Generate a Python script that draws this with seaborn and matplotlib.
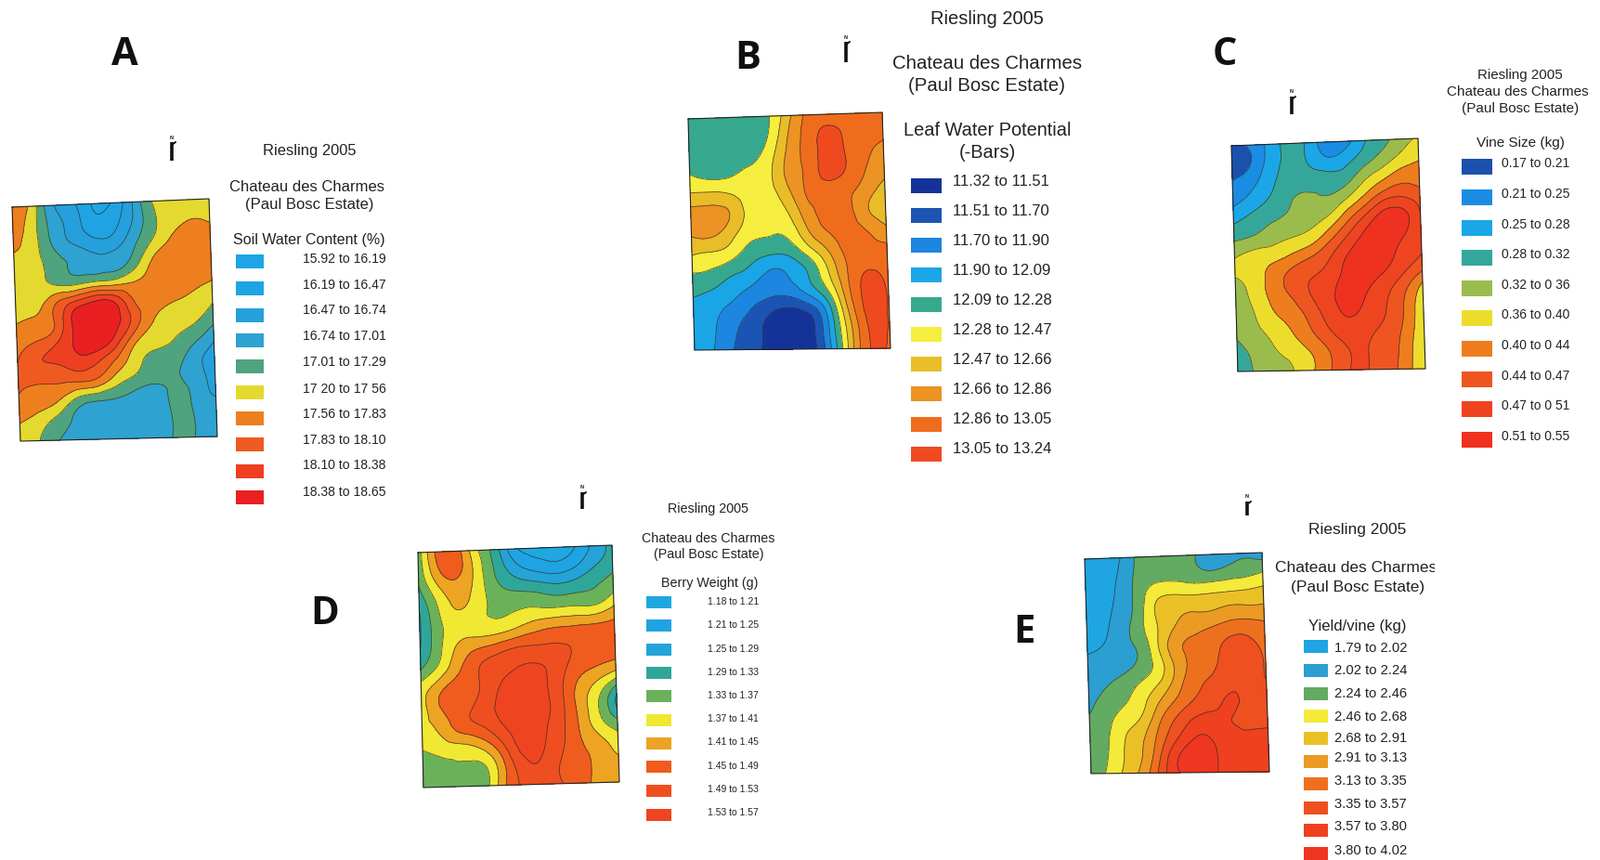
import numpy as np
import pandas as pd
import matplotlib
matplotlib.use("Agg")
import matplotlib.pyplot as plt
import matplotlib.tri as mtri
from matplotlib.patches import Rectangle
import seaborn as sns

sns.set_theme(style="white")
plt.rcParams['font.family'] = ['Liberation Sans', 'DejaVu Sans']

soil_water = [
    [6.5, 5.6, 3.2, 2.2, 1.0, 1.0, 2.8, 4.9, 5.5, 5.5, 5.5],
    [6.4, 5.4, 3.6, 2.6, 1.4, 1.6, 2.9, 4.6, 5.6, 6.0, 5.9],
    [6.1, 5.4, 3.9, 3.0, 2.4, 2.4, 3.6, 5.0, 6.1, 6.4, 6.4],
    [5.8, 5.4, 4.5, 3.8, 3.4, 3.5, 4.3, 6.05, 6.4, 6.5, 6.5],
    [5.5, 5.4, 4.9, 4.7, 5.1, 5.3, 5.9, 6.2, 6.4, 6.3, 6.1],
    [5.4, 5.5, 6.9, 8.2, 9.1, 8.9, 7.0, 6.3, 6.1, 5.8, 5.2],
    [6.0, 6.3, 7.1, 9.3, 9.7, 9.4, 7.6, 6.0, 5.4, 5.2, 4.4],
    [6.6, 7.1, 7.9, 9.2, 9.7, 8.6, 6.3, 5.4, 5.0, 4.3, 3.2],
    [7.0, 7.9, 8.1, 8.6, 8.2, 6.9, 5.4, 4.7, 4.4, 3.4, 2.6],
    [7.1, 7.1, 7.1, 7.1, 6.8, 5.5, 4.7, 4.2, 4.1, 3.5, 2.6],
    [6.9, 6.5, 6.0, 4.6, 4.1, 3.9, 3.4, 3.4, 4.3, 3.7, 3.0],
    [6.1, 5.5, 4.6, 3.8, 3.5, 3.3, 3.2, 3.2, 4.2, 3.9, 3.5],
    [5.6, 5.0, 4.0, 3.6, 3.4, 3.3, 3.2, 3.3, 4.2, 3.9, 3.5],
]
leaf_water = [
    [4.3, 4.3, 4.3, 4.4, 4.8, 6.4, 8.1, 8.5, 8.4, 8.3, 8.2],
    [4.3, 4.3, 4.4, 4.5, 4.9, 6.8, 8.3, 9.2, 8.9, 8.4, 8.2],
    [4.4, 4.4, 4.5, 4.7, 5.4, 7.1, 8.3, 9.3, 9.0, 8.2, 7.7],
    [5.1, 4.8, 4.9, 5.2, 5.7, 7.2, 8.2, 9.3, 8.9, 8.0, 7.3],
    [6.2, 6.3, 6.1, 5.5, 5.6, 6.7, 8.1, 8.4, 8.2, 7.5, 6.4],
    [7.4, 7.4, 7.0, 5.7, 5.4, 6.0, 7.6, 8.3, 8.3, 7.2, 6.3],
    [7.1, 7.2, 6.4, 5.4, 5.1, 5.3, 6.9, 8.0, 8.4, 8.0, 7.3],
    [6.1, 5.9, 5.5, 4.5, 4.2, 4.3, 5.5, 7.0, 8.3, 8.4, 8.3],
    [5.0, 4.8, 4.2, 3.7, 2.9, 3.2, 4.2, 6.1, 8.1, 9.0, 8.7],
    [4.2, 3.9, 3.4, 2.7, 2.3, 2.5, 3.5, 5.2, 7.9, 9.3, 8.9],
    [3.6, 3.3, 2.6, 1.9, 1.1, 0.8, 1.4, 3.8, 7.3, 9.3, 8.9],
    [3.5, 3.1, 2.2, 1.4, 0.7, 0.4, 0.7, 3.3, 6.7, 9.1, 8.9],
    [3.5, 3.0, 2.0, 1.3, 0.6, 0.3, 0.6, 3.0, 6.6, 9.0, 8.8],
]
vine_size = [
    [0.4, 1.2, 2.3, 3.3, 2.9, 1.4, 1.4, 2.8, 3.6, 4.5, 5.1],
    [0.5, 1.0, 2.4, 3.2, 3.0, 2.3, 2.6, 3.5, 4.4, 5.3, 5.9],
    [1.1, 1.7, 2.7, 3.5, 3.6, 3.5, 3.6, 4.8, 5.8, 6.6, 6.5],
    [1.8, 2.4, 3.2, 3.9, 4.2, 4.1, 4.9, 6.2, 7.6, 8.0, 7.5],
    [2.8, 3.4, 3.9, 4.2, 4.6, 5.1, 6.5, 8.1, 9.4, 9.4, 8.0],
    [3.9, 4.2, 4.6, 5.0, 5.4, 6.5, 8.0, 9.2, 9.5, 9.1, 8.1],
    [5.0, 5.5, 5.7, 6.2, 6.9, 7.8, 9.0, 9.5, 9.3, 8.7, 8.0],
    [5.0, 5.5, 6.4, 7.3, 7.9, 8.4, 9.3, 9.4, 8.9, 8.0, 6.8],
    [4.5, 5.3, 6.3, 7.1, 8.0, 8.8, 9.3, 9.0, 8.2, 7.1, 5.4],
    [4.2, 5.0, 5.9, 6.5, 7.4, 8.5, 9.1, 8.7, 8.0, 6.9, 5.2],
    [4.1, 4.7, 5.3, 6.0, 6.9, 7.9, 8.5, 8.2, 7.7, 6.7, 5.1],
    [3.6, 4.3, 4.9, 5.4, 6.1, 7.1, 8.0, 8.0, 7.6, 6.5, 5.1],
    [3.3, 4.1, 4.4, 5.0, 5.9, 7.0, 8.0, 8.0, 7.5, 6.4, 5.1],
]
berry_weight = [
    [4.4, 7.3, 7.4, 5.2, 3.4, 1.2, 0.6, 0.5, 0.9, 2.2, 3.3],
    [4.3, 6.8, 7.3, 5.6, 3.8, 2.4, 1.7, 1.4, 1.9, 2.9, 3.6],
    [3.8, 5.7, 6.5, 5.6, 4.3, 3.8, 3.6, 3.3, 3.5, 3.9, 4.6],
    [3.0, 5.0, 6.0, 5.4, 4.8, 4.9, 5.0, 4.9, 5.0, 5.0, 5.9],
    [2.9, 4.7, 5.6, 5.5, 5.5, 6.0, 6.6, 6.9, 7.0, 7.1, 7.2],
    [3.0, 4.8, 6.3, 7.0, 7.5, 8.0, 8.1, 8.1, 7.9, 7.6, 7.2],
    [4.0, 5.4, 6.9, 8.0, 8.6, 9.0, 9.1, 8.5, 7.6, 7.1, 6.7],
    [5.5, 6.8, 7.6, 8.0, 9.0, 9.4, 9.3, 8.4, 6.9, 5.8, 4.2],
    [5.5, 7.0, 7.7, 8.3, 9.2, 9.5, 9.4, 8.5, 6.8, 5.1, 2.8],
    [5.8, 6.3, 7.4, 7.9, 8.8, 9.4, 9.3, 8.4, 7.0, 5.5, 4.4],
    [5.1, 5.5, 5.7, 6.2, 7.6, 9.2, 9.2, 8.3, 7.2, 6.4, 5.5],
    [4.3, 4.6, 4.9, 4.8, 6.5, 8.5, 8.9, 8.0, 7.4, 6.7, 6.2],
    [4.2, 4.3, 4.4, 4.4, 6.5, 8.1, 8.6, 8.1, 7.4, 6.7, 6.3],
]
yield_vine = [
    [0.5, 0.7, 1.0, 2.2, 2.4, 2.4, 2.2, 1.4, 1.5, 1.9, 1.5],
    [0.5, 0.6, 1.2, 2.3, 2.6, 2.6, 2.4, 2.15, 2.4, 2.6, 2.9],
    [0.5, 0.7, 1.3, 2.5, 3.6, 3.8, 3.7, 3.8, 3.9, 4.0, 4.2],
    [0.6, 0.8, 1.4, 2.6, 4.2, 4.8, 4.9, 4.9, 5.2, 5.2, 5.2],
    [0.7, 0.9, 1.6, 2.7, 4.0, 5.1, 5.7, 6.0, 6.4, 6.5, 6.2],
    [0.9, 1.1, 1.6, 2.3, 4.0, 5.7, 6.2, 6.6, 7.3, 7.3, 6.7],
    [1.2, 1.5, 1.7, 2.3, 3.5, 5.3, 6.3, 6.8, 7.5, 7.6, 6.9],
    [1.4, 1.9, 2.4, 3.1, 4.0, 5.5, 6.7, 7.2, 7.7, 7.6, 7.0],
    [1.7, 2.4, 2.9, 3.7, 5.0, 6.2, 7.1, 7.7, 8.1, 7.7, 7.3],
    [2.1, 2.7, 3.5, 4.2, 5.9, 7.2, 8.1, 8.2, 8.0, 7.8, 7.6],
    [2.3, 2.9, 4.0, 4.9, 6.5, 8.0, 9.0, 8.8, 8.2, 8.1, 8.2],
    [2.4, 3.0, 4.1, 5.1, 7.1, 9.0, 9.4, 9.1, 8.3, 8.2, 8.2],
    [2.5, 3.2, 4.3, 5.5, 7.5, 9.0, 9.4, 9.1, 8.3, 8.2, 8.2],
]

soil_labels = ["15.92 to 16.19", "16.19 to 16.47", "16.47 to 16.74", "16.74 to 17.01", "17.01 to 17.29",
               "17 20 to 17 56", "17.56 to 17.83", "17.83 to 18.10", "18.10 to 18.38", "18.38 to 18.65"]
leaf_labels = ["11.32 to 11.51", "11.51 to 11.70", "11.70 to 11.90", "11.90 to 12.09", "12.09 to 12.28",
               "12.28 to 12.47", "12.47 to 12.66", "12.66 to 12.86", "12.86 to 13.05", "13.05 to 13.24"]
vine_labels = ["0.17 to 0.21", "0.21 to 0.25", "0.25 to 0.28", "0.28 to 0.32", "0.32 to 0 36",
               "0.36 to 0.40", "0.40 to 0 44", "0.44 to 0.47", "0.47 to 0 51", "0.51 to 0.55"]
berry_labels = ["1.18 to 1.21", "1.21 to 1.25", "1.25 to 1.29", "1.29 to 1.33", "1.33 to 1.37",
                "1.37 to 1.41", "1.41 to 1.45", "1.45 to 1.49", "1.49 to 1.53", "1.53 to 1.57"]
yield_labels = ["1.79 to 2.02", "2.02 to 2.24", "2.24 to 2.46", "2.46 to 2.68", "2.68 to 2.91",
                "2.91 to 3.13", "3.13 to 3.35", "3.35 to 3.57", "3.57 to 3.80", "3.80 to 4.02"]

soil_colors = ['#1fa5e6', '#1ea3e3', '#25a0dc', '#2ea2d0', '#4fa37e', '#e4d92e', '#ee7f1e', '#ef5a20', '#ee4020', '#ea1f22']
leaf_colors = ['#14339a', '#1c54b4', '#1c86e0', '#1aa5e6', '#36a88e', '#f5ee3e', '#e8bd28', '#ec9323', '#ef6c1d', '#ef4a1f']
vine_colors = ['#1b50ad', '#1a8ce4', '#1ba6e8', '#35a79a', '#9abc4c', '#ecdd2c', '#ee7d1e', '#ef5520', '#ef4420', '#ef3120']
berry_colors = ['#1fa8e0', '#1ea4e2', '#24a3d8', '#2fa69a', '#69b25a', '#f0e832', '#eca422', '#ef5c1e', '#ef4f20', '#ef4420']
yield_colors = ['#1ea5e2', '#2b9ed2', '#63aa62', '#f3ea3a', '#ebc026', '#eb9a24', '#ed701f', '#ee5020', '#ef4020', '#ef3620']

# positions below are pixels of the 1724x926 page
panels = [
    dict(letter="A", letter_xy=(134, 59), grid=soil_water, labels=soil_labels, colors=soil_colors,
         corners=[(13, 223), (225, 214), (234, 470), (22, 475)], north=(185, 146, 173),
         head=[("Riesling 2005", 333, 163, 11.9), ("Chateau des Charmes", 331, 201, 12),
               ("(Paul Bosc Estate)", 333, 220, 12), ("Soil Water Content (%)", 333, 258, 11.5)],
         label_x=326, label_size=10.1, swatch_x=269, swatch_w=30, swatch_h=15,
         label_y=[279, 307, 334, 362, 390, 419, 446, 474, 501, 530],
         swatch_y=[281, 310, 339, 366, 394, 422, 450, 478, 507, 535]),
    dict(letter="B", letter_xy=(805, 64), grid=leaf_water, labels=leaf_labels, colors=leaf_colors,
         corners=[(741, 128), (950, 121), (959, 375), (748, 377)], north=(911, 38, 67),
         head=[("Riesling 2005", 1063, 20, 14.5), ("Chateau des Charmes", 1063, 68, 14.7),
               ("(Paul Bosc Estate)", 1063, 92, 14.7), ("Leaf Water Potential", 1063, 141, 14.4),
               ("(-Bars)", 1063, 165, 14.4)],
         label_x=1026, label_size=12, swatch_x=998, swatch_w=33, swatch_h=16,
         label_y=[195, 227, 259, 291, 323, 355, 387, 419, 451, 483],
         swatch_y=[200, 232, 264, 296, 328, 360, 392, 424, 457, 489]),
    dict(letter="C", letter_xy=(1319, 59), grid=vine_size, labels=vine_labels, colors=vine_colors,
         corners=[(1326, 157), (1527, 149), (1535, 397), (1333, 400)], north=(1391, 97, 123),
         head=[("Riesling 2005", 1637, 81, 10.9), ("Chateau des Charmes", 1634, 99, 11),
               ("(Paul Bosc Estate)", 1637, 117, 11), ("Vine Size (kg)", 1637, 154, 11)],
         label_x=1617, label_size=10, swatch_x=1591, swatch_w=33, swatch_h=17,
         label_y=[176, 209, 242, 274, 307, 339, 372, 405, 437, 470],
         swatch_y=[179, 212, 245, 277, 310, 342, 375, 408, 440, 473]),
    dict(letter="D", letter_xy=(350, 662), grid=berry_weight, labels=berry_labels, colors=berry_colors,
         corners=[(450, 595), (659, 587), (667, 842), (456, 848)], north=(627, 523, 548),
         head=[("Riesling 2005", 763, 548, 10.4), ("Chateau des Charmes", 763, 580, 10.3),
               ("(Paul Bosc Estate)", 763, 597, 10.3), ("Berry Weight (g)", 764, 628, 10.3)],
         label_x=762, label_size=7.5, swatch_x=710, swatch_w=27, swatch_h=13,
         label_y=[648, 673, 699, 724, 749, 774, 799, 825, 850, 875],
         swatch_y=[648, 673, 699, 724, 749, 775, 800, 825, 851, 877]),
    dict(letter="E", letter_xy=(1103, 681), grid=yield_vine, labels=yield_labels, colors=yield_colors,
         corners=[(1168, 602), (1359, 595), (1367, 831), (1175, 833)], north=(1343, 533, 555),
         head=[("Riesling 2005", 1462, 570, 12.5), ("Chateau des Charmes", 1460, 612, 12.5),
               ("(Paul Bosc Estate)", 1462, 633, 12.5), ("Yield/vine (kg)", 1462, 675, 12)],
         label_x=1437, label_size=10.6, swatch_x=1417, swatch_w=26, swatch_h=14,
         label_y=[698, 722, 747, 772, 795, 816, 841, 866, 890, 916],
         swatch_y=[696, 722, 747, 771, 795, 820, 844, 870, 894, 919]),
]
levels = list(range(11))


def draw_map(ax, grid, colors, corners):
    z = np.array(grid)
    rows, cols = z.shape
    u, v = np.meshgrid(np.linspace(0, 1, cols), np.linspace(0, 1, rows))
    tl, tr, br, bl = [np.array(c, dtype=float) for c in corners]
    x = (1-u)*(1-v)*tl[0] + u*(1-v)*tr[0] + u*v*br[0] + (1-u)*v*bl[0]
    y = (1-u)*(1-v)*tl[1] + u*(1-v)*tr[1] + u*v*br[1] + (1-u)*v*bl[1]
    tris = []
    for i in range(rows-1):
        for j in range(cols-1):
            a = i*cols + j
            tris += [[a, a+1, a+cols], [a+1, a+cols+1, a+cols]]
    tri = mtri.Triangulation(x.ravel(), y.ravel(), tris)
    # let matplotlib round off the contours, the grid itself stays as read
    fine_tri, fine_z = mtri.UniformTriRefiner(tri).refine_field(z.ravel(), subdiv=3)
    fine_z = np.clip(fine_z, 0.01, 9.99)
    ax.tricontourf(fine_tri, fine_z, levels=levels, colors=colors)
    ax.tricontour(fine_tri, fine_z, levels=levels[1:-1], colors='#2a2a2a', linewidths=0.55, alpha=0.8)
    xs = [c[0] for c in corners] + [corners[0][0]]
    ys = [c[1] for c in corners] + [corners[0][1]]
    ax.plot(xs, ys, color='#222222', lw=0.8)


def draw_legend(ax, p):
    df = pd.DataFrame({'x': [p['swatch_x']]*10, 'y': p['swatch_y'], 'label': p['labels']})
    r = p['swatch_h'] / p['swatch_w']
    box = [(-1, -r), (1, -r), (1, r), (-1, r)]
    sns.scatterplot(data=df, x='x', y='y', hue='label', palette=p['colors'], marker=box,
                    s=(p['swatch_w']*0.72)**2, linewidth=0, legend=False, ax=ax)
    for lab, y in zip(p['labels'], p['label_y']):
        ax.text(p['label_x'], y, lab, fontsize=p['label_size'], color='#222222', va='center', ha='left')


def draw_north(ax, x, y0, y1):
    ax.plot([x, x], [y0+7, y1], color='#111111', lw=2.6, solid_capstyle='butt')
    ax.plot([x, x+4], [y0+10, y0+7], color='#111111', lw=1.4)
    ax.text(x, y0+2, "N", fontsize=4, fontweight='bold', color='#111111', ha='center', va='center')


fig = plt.figure(figsize=(17.24, 9.26), dpi=100, facecolor='white')
ax = fig.add_axes([0, 0, 1, 1])

for p in panels:
    draw_map(ax, p['grid'], p['colors'], p['corners'])
    draw_legend(ax, p)
    draw_north(ax, *p['north'])
    ax.text(*p['letter_xy'], p['letter'], fontsize=30, fontweight='bold', family='Open Sans',
            color='#111111', ha='center', va='center')
    for txt, x, y, size in p['head']:
        t = ax.text(x, y, txt, fontsize=size, color='#222222', ha='center', va='center')
        if p['letter'] == "E" and txt.startswith("Chateau"):
            # the last letter is cut off in the scan
            t.set_clip_on(True)
            t.set_clip_path(Rectangle((1300, 590), 245, 40, transform=ax.transData))

ax.set_xlim(0, 1724)
ax.set_ylim(926, 0)
ax.set_xlabel('')
ax.set_ylabel('')
ax.axis('off')
fig.savefig("out.png", dpi=100, facecolor='white')
